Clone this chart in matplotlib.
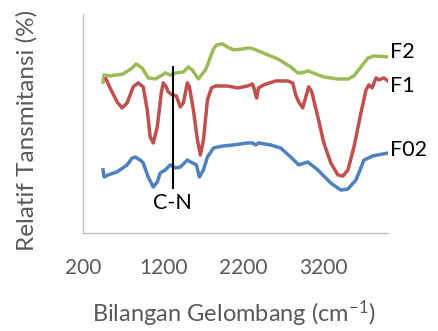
import matplotlib
matplotlib.use('Agg')
import matplotlib.pyplot as plt

plt.rcParams['font.family'] = ['Lato', 'DejaVu Sans']
plt.rcParams['mathtext.default'] = 'regular'

# wavenumber (cm-1) and relative transmittance
wn_f2 = [450, 462, 537, 700, 812, 862, 937, 1012, 1100, 1187, 1225, 1287, 1362, 1450, 1512,
         1562, 1637, 1725, 1750, 1825, 1862, 1937, 2000, 2075, 2187, 2262, 2325, 2500, 2625,
         2787, 2875, 2925, 3000, 3062, 3200, 3375, 3500, 3575, 3662, 3750, 3825, 4000]
f2 = [68.9, 72.1, 71.7, 72.6, 75.3, 77.2, 75.3, 70.8, 70.3, 72.1, 73.1, 72.1, 73.1, 73.5, 75.8,
      74.4, 70.3, 74.4, 76.7, 84.0, 85.8, 86.3, 84.9, 83.6, 84.0, 84.5, 84.0, 81.3, 79.5,
      75.8, 73.1, 73.1, 74.0, 73.1, 71.2, 70.3, 70.3, 71.7, 75.8, 79.9, 80.8, 80.4]

wn_f1 = [487, 537, 625, 687, 750, 825, 887, 950, 1000, 1037, 1075, 1125, 1175, 1200, 1237,
         1262, 1312, 1362, 1412, 1450, 1500, 1525, 1575, 1625, 1662, 1700, 1750, 1800, 1850,
         2000, 2125, 2250, 2312, 2337, 2362, 2387, 2450, 2600, 2750, 2812, 2850, 2887, 2937,
         2975, 3012, 3050, 3125, 3200, 3287, 3375, 3437, 3500, 3575, 3662, 3725, 3762, 3800,
         3850, 3887, 3950, 4000]
f1 = [70.3, 66.2, 59.8, 57.1, 59.4, 66.7, 68.5, 66.7, 56.2, 43.8, 41.1, 48.4, 63.9, 68.5, 66.7,
      64.4, 63.0, 62.6, 57.5, 59.4, 68.5, 66.7, 56.2, 42.5, 35.6, 42.5, 60.7, 66.2, 67.1,
      67.1, 66.2, 67.1, 68.0, 65.3, 61.6, 66.2, 67.6, 69.4, 69.4, 68.5, 63.0, 59.8, 57.1,
      62.1, 66.7, 64.4, 53.0, 41.1, 32.0, 26.5, 26.0, 28.8, 39.3, 54.8, 65.3, 67.6, 66.2,
      70.8, 69.9, 70.8, 69.4]

wn_f02 = [450, 462, 512, 625, 750, 812, 850, 912, 950, 1012, 1075, 1125, 1162, 1225, 1287,
          1350, 1412, 1500, 1562, 1612, 1650, 1700, 1750, 1825, 1937, 2075, 2250, 2312, 2350,
          2387, 2537, 2662, 2787, 2887, 3000, 3125, 3287, 3412, 3500, 3600, 3700, 3812, 4000]
f02 = [28.8, 25.6, 26.5, 27.9, 31.1, 34.2, 34.7, 33.3, 32.0, 25.6, 21.0, 23.3, 27.4, 28.8, 31.1,
       29.7, 30.1, 33.3, 32.0, 31.1, 25.6, 28.8, 34.7, 38.8, 39.7, 40.2, 41.1, 41.1, 40.2,
       41.1, 40.2, 38.8, 34.7, 31.1, 32.4, 28.8, 22.8, 19.6, 20.1, 24.2, 33.3, 35.2, 36.5]

cn_pos = 1320
xticks = [200, 1200, 2200, 3200]

fig = plt.figure(figsize=(4.38, 3.31), dpi=100)
ax = fig.add_axes([0.1895, 0.296, 0.6965, 0.662])

ax.plot(wn_f2, f2, color='#9BBB59', lw=2.5, solid_joinstyle='round')
ax.plot(wn_f1, f1, color='#C0504D', lw=2.5, solid_joinstyle='round')
ax.plot(wn_f02, f02, color='#4F81BD', lw=2.5, solid_joinstyle='round')

ax.plot([cn_pos, cn_pos], [20.5, 75.8], color='black', lw=1.5)
ax.text(cn_pos, 13.9, 'C-N', ha='center', va='center', fontsize=15.5, color='black')

ax.text(4030, 82.6, 'F2', ha='left', va='center', fontsize=15.5, color='black', clip_on=False)
ax.text(4030, 67.3, 'F1', ha='left', va='center', fontsize=15.5, color='black', clip_on=False)
ax.text(4030, 37.7, 'F02', ha='left', va='center', fontsize=15.5, color='black', clip_on=False)

ax.set_xlim(200, 4000)
ax.set_ylim(0, 100)
ax.set_xticks(xticks)
ax.set_yticks([])
ax.tick_params(axis='x', length=0, pad=18, labelsize=15, labelcolor='#595959')

for s in ['top', 'right']:
    ax.spines[s].set_visible(False)
for s in ['left', 'bottom']:
    ax.spines[s].set_color('#BFBFBF')
    ax.spines[s].set_linewidth(1)

fig.text(0.534, 0.052, 'Bilangan Gelombang (cm$^{-1}$)', ha='center', va='center',
         fontsize=17, color='#595959')
fig.text(0.062, 0.605, 'Relatif Tansmitansi (%)', ha='center', va='center', rotation=90,
         fontsize=17.5, color='#595959')

plt.savefig('out.png', dpi=100)
